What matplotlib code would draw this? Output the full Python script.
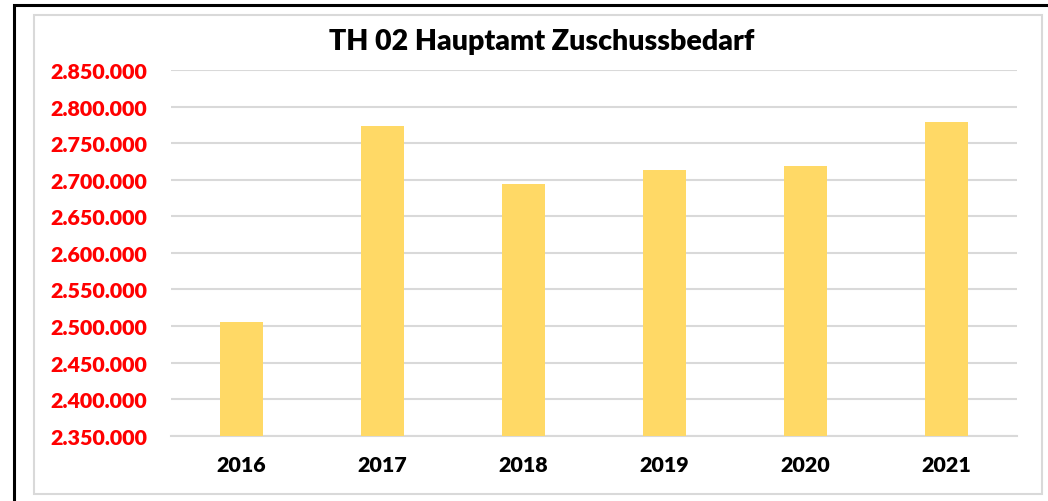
import matplotlib
matplotlib.use("Agg")
import matplotlib.pyplot as plt
from matplotlib.patches import Rectangle
from matplotlib.ticker import FuncFormatter

years = ["2016", "2017", "2018", "2019", "2020", "2021"]
values = [2505500, 2773000, 2694600, 2713300, 2719200, 2779000]
title = "TH 02 Hauptamt Zuschussbedarf"

plt.rcParams['font.family'] = ['Lato', 'DejaVu Sans']

W, H = 1048, 502
fig = plt.figure(figsize=(W / 100, H / 100), dpi=100)

# outer frames
fig.patches.append(Rectangle((14 / W, -0.1), 1.2, (H - 6) / H + 0.1, transform=fig.transFigure,
                             fill=False, edgecolor="black", linewidth=2.2))
fig.patches.append(Rectangle((34 / W, 1 - 495 / H), (1042 - 34) / W, (495 - 16) / H,
                             transform=fig.transFigure, fill=False, edgecolor="#D9D9D9", linewidth=1.5))

left, right = 171 / W, 1017 / W
bottom, top = 1 - 436.7 / H, 1 - 71 / H
ax = fig.add_axes([left, bottom, right - left, top - bottom])

x = range(len(years))
ax.bar(x, values, width=0.31, color="#FFD966", zorder=3)
ax.set_xlim(-0.5, len(years) - 0.5)
ax.set_ylim(2350000, 2850000)
ax.set_yticks(range(2350000, 2850001, 50000))
ax.yaxis.set_major_formatter(FuncFormatter(lambda v, p: f"{int(v):,}".replace(",", ".")))
ax.set_xticks(list(x))
ax.set_xticklabels(years)

ax.grid(axis="y", color="#D9D9D9", linewidth=1.5, zorder=0)
for s in ["top", "right", "left"]:
    ax.spines[s].set_visible(False)
ax.spines["bottom"].set_color("#D9D9D9")
ax.spines["bottom"].set_linewidth(1.5)
ax.tick_params(axis="both", length=0)
ax.tick_params(axis="y", pad=17, labelsize=15.4, labelcolor="#FF0000")
ax.tick_params(axis="x", pad=14, labelsize=15.4)
for lbl in ax.get_yticklabels() + ax.get_xticklabels():
    lbl.set_fontweight("heavy")

fig.text(542 / W, 1 - 42 / H, title, ha="center", va="center", fontsize=20.5, fontweight="heavy")

fig.savefig("out.png", dpi=100)
